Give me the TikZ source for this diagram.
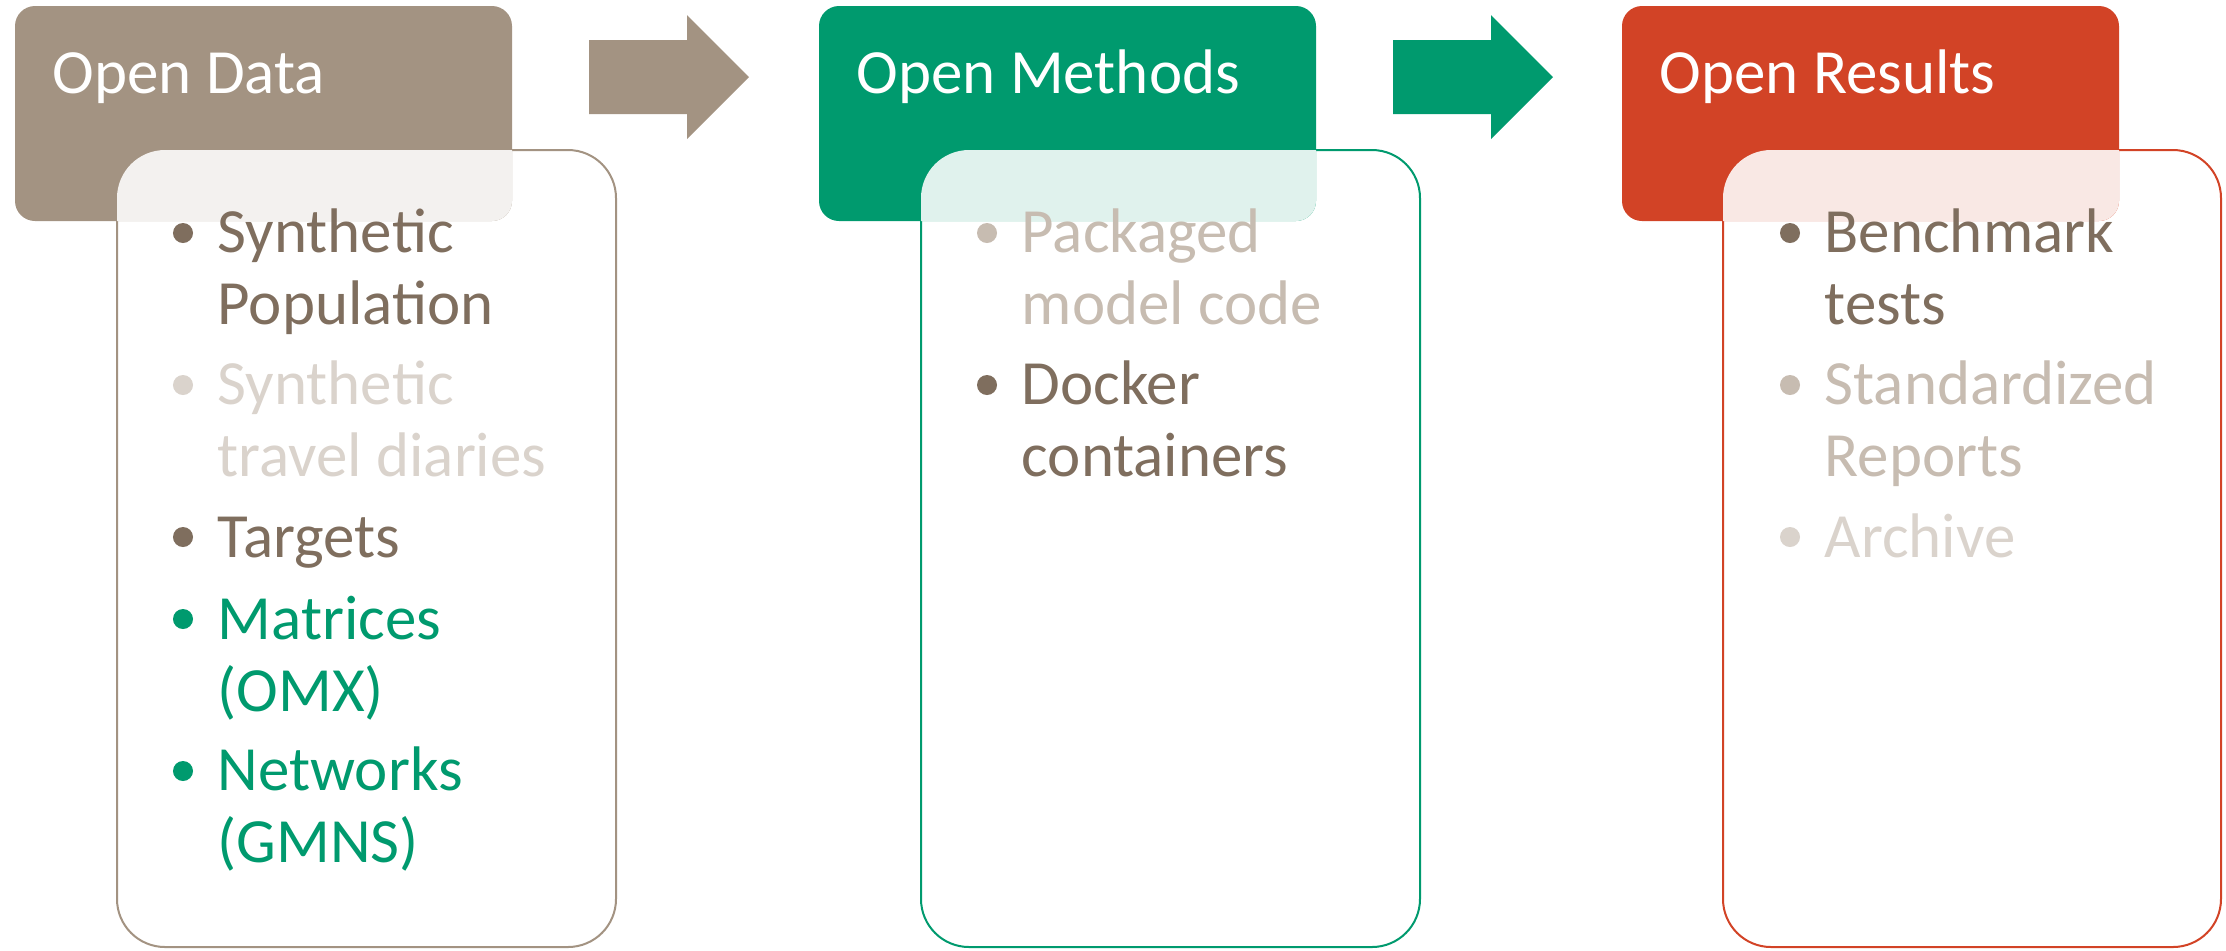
\documentclass[tikz,border=0pt]{standalone}
\usepackage{fontspec}
\setmainfont{Carlito}
\usepackage{tikz}
\definecolor{taupe}{HTML}{A39382}
\definecolor{bark}{HTML}{7F6E5E}
\definecolor{sage}{HTML}{009A6E}
\definecolor{brick}{HTML}{D24326}
\definecolor{pale}{HTML}{C7BCB1}
\definecolor{paler}{HTML}{DAD3CC}
\tikzset{headbox/.style={
    fill=#1,
    rounded corners=0.2cm}}
\tikzset{listbox/.style={
    draw=#1,
    line width=0.02cm,
    fill=white,
    rounded corners=0.48cm}}
\tikzset{veil/.style={
    fill=white,
    fill opacity=0.88,
    rounded corners=0.48cm}}
\tikzset{headtext/.style={
    text=white,
    anchor=base west,
    inner sep=0pt,
    font=\fontsize{17.9pt}{20.35pt}\selectfont}}
\tikzset{itemtext/.style={
    text=#1,
    anchor=base west,
    inner sep=0pt,
    align=left,
    font=\fontsize{17.9pt}{20.35pt}\selectfont}}
\tikzset{itemdot/.style={
    fill=#1,
    circle,
    inner sep=0pt,
    minimum size=0.2cm}}

\begin{document}
\begin{tikzpicture}[x=0.01cm,y=-0.01cm]
\useasboundingbox (0,0) rectangle (2226,950);

% boxes under the headers
\path[listbox=taupe] (117,150) rectangle (616,947);
\path[listbox=sage] (921,150) rectangle (1420,947);
\path[listbox=brick] (1723,150) rectangle (2221,947);

\path[headbox=taupe] (15,6) rectangle (512,221);
\path[headbox=sage] (819,6) rectangle (1316,221);
\path[headbox=brick] (1622,6) rectangle (2119,221);

% light where box and header meet
\begin{scope}
  \clip[rounded corners=0.2cm] (15,6) rectangle (512,221);
  \path[veil] (117,150) rectangle (616,947);
\end{scope}
\begin{scope}
  \clip[rounded corners=0.2cm] (819,6) rectangle (1316,221);
  \path[veil] (921,150) rectangle (1420,947);
\end{scope}
\begin{scope}
  \clip[rounded corners=0.2cm] (1622,6) rectangle (2119,221);
  \path[veil] (1723,150) rectangle (2221,947);
\end{scope}

% block arrows
\fill[taupe] (589,40) -- (687,40) -- (687,15) -- (749,77) -- (687,139) -- (687,114) -- (589,114) -- cycle;
\fill[sage] (1393,40) -- (1491,40) -- (1491,15) -- (1553,77) -- (1491,139) -- (1491,114) -- (1393,114) -- cycle;

\node[headtext] (data) at (52,93) {Open Data};
\node[headtext] (methods) at (856,93) {Open Methods};
\node[headtext] (results) at (1659,93) {Open Results};

% open data (two-line items sit on their last line)
\node[itemdot=bark] (dpopdot) at (183,233) {};
\node[itemtext=bark] (dpop) at (217,324) {Synthetic\\Population};
\node[itemdot=paler] (ddiarydot) at (183,385) {};
\node[itemtext=paler] (ddiary) at (217,476) {Synthetic\\travel diaries};
\node[itemdot=bark] (dtargetdot) at (183,537) {};
\node[itemtext=bark] (dtarget) at (217,557) {Targets};
\node[itemdot=sage] (dmatrixdot) at (183,619) {};
\node[itemtext=sage] (dmatrix) at (217,711) {Matrices\\(OMX)};
\node[itemdot=sage] (dnetdot) at (183,771) {};
\node[itemtext=sage] (dnet) at (217,862) {Networks\\(GMNS)};

% open methods
\node[itemdot=pale] (mcodedot) at (987,233) {};
\node[itemtext=pale] (mcode) at (1021,324) {Packaged\\model code};
\node[itemdot=bark] (mdockerdot) at (987,385) {};
\node[itemtext=bark] (mdocker) at (1021,476) {Docker\\containers};

% open results
\node[itemdot=bark] (rbenchdot) at (1790,233) {};
\node[itemtext=bark] (rbench) at (1824,324) {Benchmark\\tests};
\node[itemdot=pale] (rreportdot) at (1790,385) {};
\node[itemtext=pale] (rreport) at (1824,476) {Standardized\\Reports};
\node[itemdot=paler] (rarchivedot) at (1790,537) {};
\node[itemtext=paler] (rarchive) at (1824,557) {Archive};

\end{tikzpicture}
\end{document}
